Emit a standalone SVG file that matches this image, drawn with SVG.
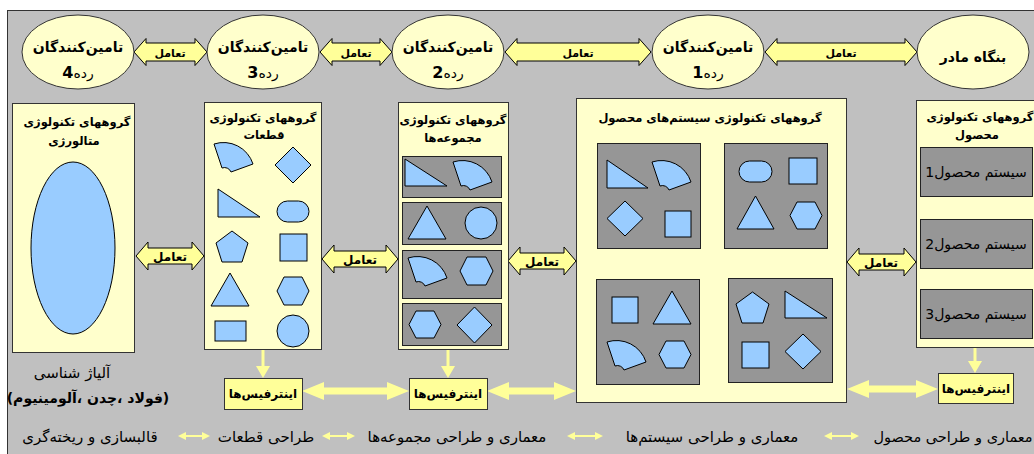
<svg xmlns="http://www.w3.org/2000/svg" xmlns:xlink="http://www.w3.org/1999/xlink" width="1034" height="454" viewBox="0 0 1034 454">
<style>
.t{font-family:"DejaVu Sans","Noto Sans",sans-serif;fill:#000;direction:rtl;text-anchor:middle}
.b{font-weight:bold}
.ti{font-weight:bold;font-size:11.5px}
.lg{font-size:15px}
.box{fill:#FFFFCC;stroke:#333;stroke-width:1}
.sub{fill:#969696;stroke:#222;stroke-width:1}
.sh{fill:#99CCFF;stroke:#000;stroke-width:1}
.arr{fill:#FFFF99;stroke:#000;stroke-width:1}
.yarr{fill:#FFFF99;stroke:none}
.ifc{fill:#FFFF99;stroke:#333;stroke-width:1}
.ell{fill:#FFFFCC;stroke:#333;stroke-width:1}
.gl{stroke:#A6A6A6;stroke-width:2;fill:none}
.gh{fill:#A6A6A6;stroke:#888;stroke-width:0.5}
.yl{stroke:#FFFF99;stroke-width:3;fill:none}
</style>
<defs>
<path id="sec" d="M0,0 A31,31 0 0,1 39,20 L17,28 A7,7 0 0,0 8,24 Z"/>
</defs>
<rect x="7.5" y="10.5" width="1030" height="450" fill="#C0C0C0" stroke="#333"/>

<g id="connectors">
<path class="arr" d="M134,52 L146,38.5 L146,43 L195,43 L195,38.5 L207,52 L195,65.5 L195,61 L146,61 L146,65.5 Z"/>
<path class="arr" d="M320,52 L332,38.5 L332,43 L380,43 L380,38.5 L392,52 L380,65.5 L380,61 L332,61 L332,65.5 Z"/>
<path class="arr" d="M505,52 L517,38.5 L517,43 L639,43 L639,38.5 L651,52 L639,65.5 L639,61 L517,61 L517,65.5 Z"/>
<path class="arr" d="M765,52 L777,38.5 L777,43 L905,43 L905,38.5 L917,52 L905,65.5 L905,61 L777,61 L777,65.5 Z"/>
<text class="t b" x="170" y="57" font-size="11">تعامل</text>
<text class="t b" x="356" y="57" font-size="11">تعامل</text>
<text class="t b" x="578" y="57" font-size="11">تعامل</text>
<text class="t b" x="841" y="57" font-size="11">تعامل</text>

<path class="arr" d="M136,256 L148,242 L148,248 L192,248 L192,242 L204,256 L192,270 L192,264 L148,264 L148,270 Z"/>
<path class="arr" d="M322,259 L334,245 L334,251 L386,251 L386,245 L398,259 L386,273 L386,267 L334,267 L334,273 Z"/>
<path class="arr" d="M508,261 L520,247 L520,253 L564,253 L564,247 L576,261 L564,275 L564,269 L520,269 L520,275 Z"/>
<path class="arr" d="M847,262 L859,248 L859,254 L904,254 L904,248 L916,262 L904,276 L904,270 L859,270 L859,276 Z"/>
<text class="t b" x="170" y="261" font-size="12">تعامل</text>
<text class="t b" x="360" y="264" font-size="12">تعامل</text>
<text class="t b" x="542" y="266" font-size="12">تعامل</text>
<text class="t b" x="881" y="267" font-size="12">تعامل</text>

<path class="yarr" d="M302,391 L324,382 L324,387.5 L387,387.5 L387,382 L409,391 L387,400 L387,394.5 L324,394.5 L324,400 Z"/>
<path class="yarr" d="M487,391 L509,382 L509,387.5 L554,387.5 L554,382 L576,391 L554,400 L554,394.5 L509,394.5 L509,400 Z"/>
<path class="yarr" d="M847,389 L869,380 L869,385.5 L916,385.5 L916,380 L938,389 L916,398 L916,392.5 L869,392.5 L869,398 Z"/>

<line class="yl" x1="263" y1="350" x2="263" y2="367"/>
<polygon class="yarr" points="256,366 270,366 263,378"/>
<line class="yl" x1="448" y1="350" x2="448" y2="367"/>
<polygon class="yarr" points="441,366 455,366 448,378"/>
<line class="yl" x1="975" y1="347" x2="975" y2="362"/>
<polygon class="yarr" points="968,361 982,361 975,373"/>

<line class="gl" x1="975" y1="202" x2="975" y2="213"/>
<polygon class="gh" points="970,204 980,204 975,197"/>
<polygon class="gh" points="970,211 980,211 975,218"/>
<line class="gl" x1="975" y1="274" x2="975" y2="284"/>
<polygon class="gh" points="970,276 980,276 975,269"/>
<polygon class="gh" points="970,282 980,282 975,289"/>

<path class="yarr" d="M178,436 L186,432 L186,435 L202,435 L202,432 L210,436 L202,440 L202,437 L186,437 L186,440 Z"/>
<path class="yarr" d="M322,436 L330,432 L330,435 L347,435 L347,432 L355,436 L347,440 L347,437 L330,437 L330,440 Z"/>
<path class="yarr" d="M567,436 L575,432 L575,435 L595,435 L595,432 L603,436 L595,440 L595,437 L575,437 L575,440 Z"/>
<path class="yarr" d="M824,436 L832,432 L832,435 L851,435 L851,432 L859,436 L851,440 L851,437 L832,437 L832,440 Z"/>
</g>

<g id="tier4">
<ellipse class="ell" cx="78" cy="52" rx="56" ry="37"/>
<text class="t b" x="78" y="52" font-size="14">تامین‌کنندگان</text>
<text class="t" x="78" y="78" font-size="14">رده<tspan font-weight="bold" font-size="16">4</tspan></text>
</g>
<g id="tier3">
<ellipse class="ell" cx="263" cy="52" rx="56" ry="37"/>
<text class="t b" x="263" y="52" font-size="14">تامین‌کنندگان</text>
<text class="t" x="263" y="78" font-size="14">رده<tspan font-weight="bold" font-size="16">3</tspan></text>
</g>
<g id="tier2">
<ellipse class="ell" cx="448" cy="52" rx="56" ry="37"/>
<text class="t b" x="448" y="52" font-size="14">تامین‌کنندگان</text>
<text class="t" x="448" y="78" font-size="14">رده<tspan font-weight="bold" font-size="16">2</tspan></text>
</g>
<g id="tier1">
<ellipse class="ell" cx="708" cy="52" rx="56" ry="37"/>
<text class="t b" x="708" y="52" font-size="14">تامین‌کنندگان</text>
<text class="t" x="708" y="78" font-size="14">رده<tspan font-weight="bold" font-size="16">1</tspan></text>
</g>
<g id="oem">
<ellipse class="ell" cx="973" cy="52" rx="56" ry="37"/>
<text class="t b" x="973" y="62" font-size="14">بنگاه مادر</text>
</g>

<g id="metallurgy">
<rect class="box" x="12.5" y="103.5" width="122" height="249"/>
<text class="t ti" x="77" y="126">گروههای تکنولوژی</text>
<text class="t ti" x="74" y="145">متالورژی</text>
<ellipse class="sh" cx="73" cy="248" rx="42" ry="86"/>
<text class="t" x="72" y="378" font-size="15">آلیاژ شناسی</text>
<text class="t b" x="88" y="403" font-size="14">(فولاد ،چدن ،آلومینیوم)</text>
</g>

<g id="parts">
<rect class="box" x="204.5" y="102.5" width="117" height="247"/>
<text class="t ti" x="263" y="122">گروههای تکنولوژی</text>
<text class="t ti" x="264" y="139">قطعات</text>
<use class="sh" xlink:href="#sec" x="214" y="144"/>
<polygon class="sh" points="293,147 311,165 293,183 275,165"/>
<polygon class="sh" points="218,189 218,217 260,217"/>
<rect class="sh" x="277" y="201" width="32" height="21" rx="10.5"/>
<polygon class="sh" points="232,231 248,243 242,262 222,262 216,243"/>
<rect class="sh" x="280" y="234" width="27" height="27"/>
<polygon class="sh" points="230,273 249,306 211,306"/>
<polygon class="sh" points="284,277 302,277 309,291 302,305 284,305 277,291"/>
<rect class="sh" x="215" y="321" width="31" height="20"/>
<circle class="sh" cx="293" cy="331" r="16"/>
</g>

<g id="assemblies">
<rect class="box" x="398.5" y="102.5" width="110" height="247"/>
<text class="t ti" x="453" y="124">گروههای تکنولوژی</text>
<text class="t ti" x="453" y="142">مجموعه‌ها</text>
<rect class="sub" x="402.5" y="156.5" width="99" height="41"/>
<polygon class="sh" points="405,159 405,186 447,186"/>
<use class="sh" xlink:href="#sec" x="453" y="162"/>
<rect class="sub" x="402.5" y="202.5" width="99" height="42"/>
<polygon class="sh" points="427,206 446,239 408,239"/>
<circle class="sh" cx="481" cy="223" r="16"/>
<rect class="sub" x="402.5" y="250.5" width="99" height="48"/>
<use class="sh" xlink:href="#sec" x="408" y="258"/>
<polygon class="sh" points="467,257 486,257 493,271 486,285 467,285 460,271"/>
<rect class="sub" x="402.5" y="303.5" width="99" height="42"/>
<polygon class="sh" points="416,311 434,311 441,324.5 434,338 416,338 409,324.5"/>
<polygon class="sh" points="474.5,307 492,325 474.5,343 457,325"/>
</g>

<g id="systems">
<rect class="box" x="576.5" y="98.5" width="270" height="304"/>
<text class="t ti" x="710" y="122">گروههای تکنولوژی سیستم‌های محصول</text>
<rect class="sub" x="597.5" y="143.5" width="103" height="105"/>
<polygon class="sh" points="607,160 607,188 648,188"/>
<use class="sh" xlink:href="#sec" x="652" y="162"/>
<polygon class="sh" points="625,201 643,218.5 625,236 607,218.5"/>
<rect class="sh" x="665" y="211" width="26" height="26"/>
<rect class="sub" x="724.5" y="143.5" width="103" height="105"/>
<rect class="sh" x="739" y="161" width="33" height="21" rx="10.5"/>
<rect class="sh" x="789" y="158" width="28" height="26"/>
<polygon class="sh" points="755.5,196 774,229 737,229"/>
<polygon class="sh" points="797,202 815,202 822,215.5 815,229 797,229 790,215.5"/>
<rect class="sub" x="596.5" y="279.5" width="103" height="105"/>
<rect class="sh" x="612" y="297" width="26" height="26"/>
<polygon class="sh" points="672,291 691,324 653,324"/>
<use class="sh" xlink:href="#sec" x="607" y="342"/>
<polygon class="sh" points="666,341 684,341 691,354.5 684,368 666,368 659,354.5"/>
<rect class="sub" x="728.5" y="278.5" width="104" height="104"/>
<polygon class="sh" points="752.5,292 769,304 763,323 742,323 736,304"/>
<polygon class="sh" points="785,291 785,318 827,318"/>
<rect class="sh" x="742" y="342" width="27" height="26"/>
<polygon class="sh" points="803,334 821,351.5 803,369 785,351.5"/>
</g>

<g id="product">
<rect class="box" x="916.5" y="100.5" width="130" height="247"/>
<text class="t ti" x="980" y="121">گروههای تکنولوژی</text>
<text class="t ti" x="977" y="139">محصول</text>
<rect class="sub" x="920.5" y="147.5" width="112" height="49"/>
<text class="t" x="976" y="177" font-size="14">سیستم محصول1</text>
<rect class="sub" x="920.5" y="219.5" width="112" height="49"/>
<text class="t" x="976" y="249" font-size="14">سیستم محصول2</text>
<rect class="sub" x="920.5" y="289.5" width="112" height="49"/>
<text class="t" x="976" y="319" font-size="14">سیستم محصول3</text>
</g>

<g id="interface1">
<rect class="ifc" x="224.5" y="378.5" width="78" height="31"/>
<text class="t b" x="263" y="398" font-size="12">اینترفیس‌ها</text>
</g>
<g id="interface2">
<rect class="ifc" x="409.5" y="378.5" width="78" height="31"/>
<text class="t b" x="448" y="398" font-size="12">اینترفیس‌ها</text>
</g>
<g id="interface3">
<rect class="ifc" x="938.5" y="373.5" width="75" height="30"/>
<text class="t b" x="976" y="393" font-size="12">اینترفیس‌ها</text>
</g>

<g id="legend">
<text class="t lg" x="90" y="442">قالبسازی و ریخته‌گری</text>
<text class="t lg" x="266" y="442">طراحی قطعات</text>
<text class="t lg" x="457" y="442">معماری و طراحی مجموعه‌ها</text>
<text class="t lg" x="712" y="442">معماری و طراحی سیستم‌ها</text>
<text class="t" x="953" y="442" font-size="14.5">معماری و طراحی محصول</text>
</g>
</svg>
